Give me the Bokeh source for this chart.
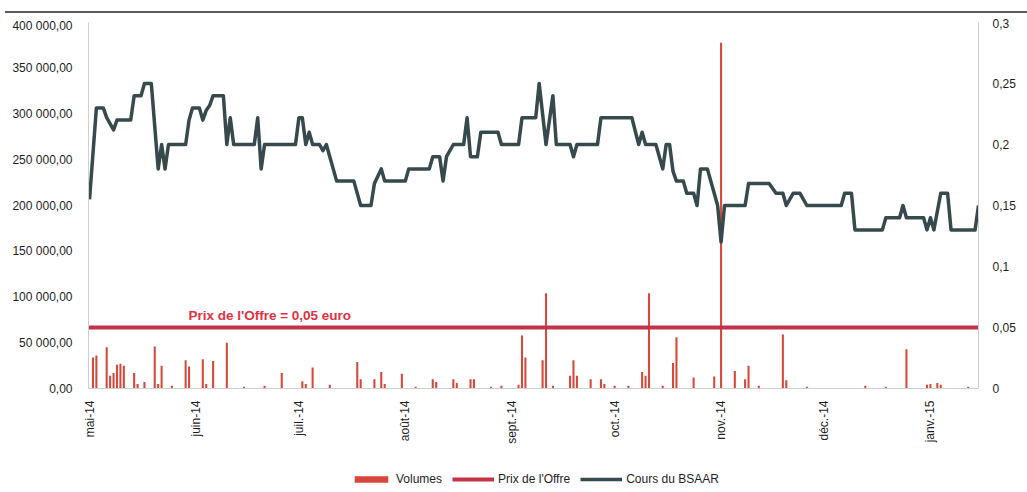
import math
import pandas as pd
from bokeh.plotting import figure
from bokeh.layouts import column
from bokeh.models import Range1d, LinearAxis, FixedTicker, Legend, LegendItem, Label, Div
from bokeh.embed import file_html
from bokeh.resources import INLINE

# ---------------- data ----------------
axis_start = "2014-05-01"
axis_end = "2015-01-15"

month_ticks = ["2014-05-01", "2014-06-01", "2014-07-01", "2014-08-01", "2014-09-01",
               "2014-10-01", "2014-11-01", "2014-12-01", "2015-01-01"]
month_labels = ["mai-14", "juin-14", "juil.-14", "août-14", "sept.-14",
                "oct.-14", "nov.-14", "déc.-14", "janv.-15"]

price_dates = [
    "2014-05-01", "2014-05-03", "2014-05-05", "2014-05-06", "2014-05-08", "2014-05-09",
    "2014-05-13", "2014-05-14", "2014-05-16", "2014-05-17", "2014-05-19", "2014-05-21",
    "2014-05-22", "2014-05-23", "2014-05-24", "2014-05-29", "2014-05-30", "2014-05-31",
    "2014-06-02", "2014-06-03", "2014-06-04", "2014-06-05", "2014-06-06", "2014-06-09",
    "2014-06-10", "2014-06-11", "2014-06-12", "2014-06-18", "2014-06-19", "2014-06-20",
    "2014-06-21", "2014-06-30", "2014-07-01", "2014-07-02", "2014-07-03", "2014-07-04",
    "2014-07-05", "2014-07-07", "2014-07-08", "2014-07-09", "2014-07-10", "2014-07-11",
    "2014-07-12", "2014-07-17", "2014-07-19", "2014-07-22", "2014-07-23", "2014-07-25",
    "2014-07-26", "2014-08-01", "2014-08-02", "2014-08-08", "2014-08-09", "2014-08-11",
    "2014-08-12", "2014-08-13", "2014-08-15", "2014-08-18", "2014-08-19", "2014-08-20",
    "2014-08-22", "2014-08-23", "2014-08-28", "2014-08-29", "2014-09-03", "2014-09-04",
    "2014-09-08", "2014-09-09", "2014-09-11", "2014-09-13", "2014-09-14", "2014-09-18",
    "2014-09-19", "2014-09-20", "2014-09-26", "2014-09-27", "2014-10-06", "2014-10-08",
    "2014-10-09", "2014-10-10", "2014-10-13", "2014-10-15", "2014-10-16", "2014-10-17",
    "2014-10-18", "2014-10-19", "2014-10-21", "2014-10-22", "2014-10-24", "2014-10-25",
    "2014-10-26", "2014-10-28", "2014-10-30", "2014-10-31", "2014-11-01", "2014-11-02",
    "2014-11-08", "2014-11-09", "2014-11-15", "2014-11-17", "2014-11-19", "2014-11-20",
    "2014-11-22", "2014-11-24", "2014-11-26", "2014-12-06", "2014-12-07", "2014-12-09",
    "2014-12-10", "2014-12-18", "2014-12-19", "2014-12-23", "2014-12-24", "2014-12-25",
    "2014-12-30", "2014-12-31", "2015-01-01", "2015-01-02", "2015-01-04", "2015-01-06",
    "2015-01-07", "2015-01-14", "2015-01-15",
]
price_values = [
    0.155, 0.23, 0.23, 0.222, 0.212, 0.22,
    0.22, 0.24, 0.24, 0.25, 0.25, 0.18,
    0.20, 0.18, 0.20, 0.20, 0.22, 0.23,
    0.23, 0.22, 0.228, 0.232, 0.24, 0.24,
    0.20, 0.222, 0.20, 0.20, 0.222, 0.18,
    0.20, 0.20, 0.222, 0.222, 0.20, 0.21,
    0.20, 0.20, 0.195, 0.20, 0.19, 0.18,
    0.17, 0.17, 0.15, 0.15, 0.168, 0.18,
    0.17, 0.17, 0.18, 0.18, 0.19, 0.19,
    0.17, 0.19, 0.20, 0.20, 0.222, 0.19,
    0.19, 0.21, 0.21, 0.20, 0.20, 0.222,
    0.222, 0.25, 0.20, 0.24, 0.20, 0.20,
    0.19, 0.20, 0.20, 0.222, 0.222, 0.20,
    0.21, 0.20, 0.20, 0.18, 0.20, 0.20,
    0.178, 0.17, 0.17, 0.16, 0.16, 0.15,
    0.18, 0.18, 0.16, 0.15, 0.12, 0.15,
    0.15, 0.168, 0.168, 0.16, 0.16, 0.15,
    0.16, 0.16, 0.15, 0.15, 0.16, 0.16,
    0.13, 0.13, 0.14, 0.14, 0.15, 0.14,
    0.14, 0.13, 0.14, 0.13, 0.16, 0.16,
    0.13, 0.13, 0.15,
]

volume_dates = [
    "2014-05-02", "2014-05-03", "2014-05-06", "2014-05-07", "2014-05-08", "2014-05-09",
    "2014-05-10", "2014-05-11", "2014-05-14", "2014-05-15", "2014-05-17", "2014-05-20",
    "2014-05-21", "2014-05-22", "2014-05-25", "2014-05-29", "2014-05-30", "2014-06-03",
    "2014-06-04", "2014-06-06", "2014-06-10", "2014-06-15", "2014-06-21", "2014-06-26",
    "2014-07-02", "2014-07-03", "2014-07-05", "2014-07-10", "2014-07-18", "2014-07-19",
    "2014-07-23", "2014-07-25", "2014-07-26", "2014-07-31", "2014-08-04", "2014-08-09",
    "2014-08-10", "2014-08-15", "2014-08-16", "2014-08-20", "2014-08-21", "2014-08-26",
    "2014-08-29", "2014-09-03", "2014-09-04", "2014-09-05", "2014-09-10", "2014-09-11",
    "2014-09-13", "2014-09-18", "2014-09-19", "2014-09-20", "2014-09-24", "2014-09-27",
    "2014-09-28", "2014-10-01", "2014-10-05", "2014-10-09", "2014-10-10", "2014-10-11",
    "2014-10-15", "2014-10-18", "2014-10-19", "2014-10-24", "2014-10-30", "2014-11-01",
    "2014-11-05", "2014-11-08", "2014-11-09", "2014-11-12", "2014-11-19", "2014-11-20",
    "2014-11-26", "2014-12-13", "2014-12-19", "2014-12-25", "2014-12-31", "2015-01-01",
    "2015-01-03", "2015-01-04", "2015-01-12",
]
volume_values = [
    34000, 36000, 45000, 14000, 17000, 26000,
    27000, 25000, 17000, 5000, 7000, 46000,
    5000, 25000, 3000, 31000, 24000, 32000,
    5000, 30000, 50000, 2000, 3000, 17000,
    8000, 5000, 23000, 4000, 29000, 10000,
    10000, 18000, 5000, 16000, 2000, 10000,
    7000, 10000, 6000, 10000, 10000, 2000,
    3000, 4000, 58000, 34000, 31000, 104000,
    3000, 14000, 31000, 14000, 10000, 10000,
    5000, 3000, 3000, 18000, 14000, 104000,
    3000, 28000, 56000, 12000, 13000, 378000,
    19000, 10000, 25000, 3000, 59000, 9000,
    2000, 3000, 2000, 43000, 4000, 5000,
    6000, 4000, 2000,
]

offer_price = 0.05

left_ticks = [0, 50000, 100000, 150000, 200000, 250000, 300000, 350000, 400000]
left_labels = ["0,00", "50 000,00", "100 000,00", "150 000,00", "200 000,00",
               "250 000,00", "300 000,00", "350 000,00", "400 000,00"]
right_ticks = [0, 0.05, 0.1, 0.15, 0.2, 0.25, 0.3]
right_labels = ["0", "0,05", "0,1", "0,15", "0,2", "0,25", "0,3"]

series_names = ["Volumes", "Prix de l'Offre", "Cours du BSAAR"]

# ---------------- helpers ----------------
t0 = pd.Timestamp(axis_start)


def to_days(ds):
    return [(pd.Timestamp(d) - t0).days for d in ds]


FONT = "Liberation Sans"
TXT = "#1e1e1e"
VOL_COL = "#d6483a"
OFFER_COL = "#c2334a"
PRICE_COL = "#36494d"

# ---------------- top rule ----------------
rule = Div(text="", width=1022, height=8,
           styles={"border-bottom": "2px solid #5a5a5a", "margin-left": "5px"})

# ---------------- main chart ----------------
x_end = to_days([axis_end])[0]
p = figure(width=1018, height=428, output_backend="svg", toolbar_location=None,
           x_range=Range1d(-0.3, x_end), y_range=Range1d(0, 400000),
           min_border_left=88, min_border_right=38, min_border_top=4,
           min_border_bottom=58)
p.extra_y_ranges = {"price": Range1d(0, 0.3)}
p.grid.visible = False
p.outline_line_color = None
p.background_fill_color = "white"
p.border_fill_color = "white"

# volumes
p.vbar(x=to_days(volume_dates), top=volume_values, width=0.6,
       fill_color=VOL_COL, line_color=None)

# offer price
p.line(x=[-0.3, x_end], y=[offer_price, offer_price], y_range_name="price",
       line_color=OFFER_COL, line_width=4)

# BSAAR price
p.line(x=to_days(price_dates), y=price_values, y_range_name="price",
       line_color=PRICE_COL, line_width=3.5, line_join="round")

p.add_layout(Label(x=52.5, y=0.0595, y_range_name="price", text="Prix de l'Offre = 0,05 euro",
                   text_align="center", text_baseline="middle", text_font=FONT,
                   text_font_size="13.5px", text_font_style="bold", text_color="#e2313f"))

# axes
xa = p.xaxis[0]
xa.ticker = FixedTicker(ticks=to_days(month_ticks))
xa.major_label_overrides = {d: l for d, l in zip(to_days(month_ticks), month_labels)}
xa.major_label_orientation = math.pi / 2
xa.major_tick_line_color = None
xa.minor_tick_line_color = None
xa.axis_line_color = "#cfcfcf"
xa.major_label_text_font = FONT
xa.major_label_text_font_size = "12px"
xa.major_label_text_color = TXT
xa.major_label_standoff = 6

ya = p.yaxis[0]
ya.ticker = FixedTicker(ticks=left_ticks)
ya.major_label_overrides = {t: l for t, l in zip(left_ticks, left_labels)}
ya.major_tick_line_color = None
ya.minor_tick_line_color = None
ya.axis_line_color = "#cfcfcf"
ya.major_label_text_font = FONT
ya.major_label_text_font_size = "12px"
ya.major_label_text_color = TXT
ya.major_label_standoff = 10

ra = LinearAxis(y_range_name="price", ticker=FixedTicker(ticks=right_ticks))
ra.major_label_overrides = {t: l for t, l in zip(right_ticks, right_labels)}
ra.major_tick_line_color = None
ra.minor_tick_line_color = None
ra.axis_line_color = "#cfcfcf"
ra.major_label_text_font = FONT
ra.major_label_text_font_size = "12px"
ra.major_label_text_color = TXT
ra.major_label_standoff = 8
p.add_layout(ra, "right")

# ---------------- legend strip ----------------
lg = figure(width=1018, height=44, output_backend="svg", toolbar_location=None,
            x_range=Range1d(0, 1), y_range=Range1d(0, 1),
            x_axis_location=None, y_axis_location=None,
            min_border_left=88, min_border_right=38, min_border_top=0, min_border_bottom=0)
lg.grid.visible = False
lg.outline_line_color = None
# legend proxies (placed outside the visible range, only their legend swatches show)
lg_vol = lg.vbar(x=[5], top=[5], bottom=[4], width=0.1, fill_color=VOL_COL, line_color=None)
lg_off = lg.line(x=[5, 6], y=[5, 5], line_color=OFFER_COL, line_width=4)
lg_pri = lg.line(x=[5, 6], y=[5, 5], line_color=PRICE_COL, line_width=3.5)
legend = Legend(items=[LegendItem(label=series_names[0], renderers=[lg_vol]),
                       LegendItem(label=series_names[1], renderers=[lg_off]),
                       LegendItem(label=series_names[2], renderers=[lg_pri])],
                orientation="horizontal", location=(262, 4),
                glyph_width=42, glyph_height=8, label_standoff=4, spacing=10,
                padding=0, margin=0, border_line_color=None,
                background_fill_alpha=0,
                label_text_font=FONT, label_text_font_size="12px",
                label_text_color=TXT)
lg.add_layout(legend, "center")

open("out.html", "w").write(file_html(column(rule, p, lg, spacing=0), INLINE))
